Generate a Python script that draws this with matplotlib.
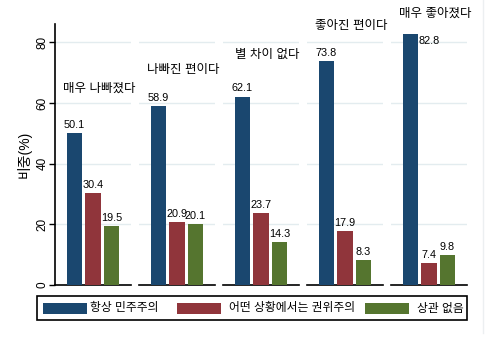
import matplotlib
matplotlib.use('Agg')
import matplotlib.pyplot as plt
from matplotlib.lines import Line2D
from matplotlib.patches import Rectangle

plt.rcParams['font.family'] = ['Liberation Sans', 'Noto Sans CJK KR', 'DejaVu Sans']

panels = ['매우 나빠졌다', '나빠진 편이다', '별 차이 없다', '좋아진 편이다', '매우 좋아졌다']
series = ['항상 민주주의', '어떤 상황에서는 권위주의', '상관 없음']
democracy = [50.1, 58.9, 62.1, 73.8, 82.8]
authoritarian = [30.4, 20.9, 23.7, 17.9, 7.4]
indifferent = [19.5, 20.1, 14.3, 8.3, 9.8]
title_y = [64.8, 70.7, 75.7, 85.5, 89.5]
yticks = [0, 20, 40, 60, 80]

colors = ['#1a476f', '#90353b', '#55752f']
grid_color = '#e3ecef'

W, H = 488, 341
fig = plt.figure(figsize=(W / 100, H / 100), dpi=100)

left0, step, pw = 55, 84, 76
top, bottom = 24, 285

for i, name in enumerate(panels):
    ax = fig.add_axes([(left0 + i * step) / W, 1 - bottom / H, pw / W, (bottom - top) / H])
    vals = [democracy[i], authoritarian[i], indifferent[i]]
    ax.bar(range(3), vals, width=0.81, color=colors, zorder=3)
    ax.set_xlim(-1.05, 3.05)
    ax.set_ylim(0, 86)
    ax.set_yticks(yticks)
    ax.grid(axis='y', color=grid_color, linewidth=1, zorder=0)
    ax.set_xticks([])
    for s in ['top', 'right']:
        ax.spines[s].set_visible(False)
    ax.spines['bottom'].set_linewidth(1.2)
    if i == 0:
        ax.spines['left'].set_linewidth(1.2)
        ax.tick_params(axis='y', length=4, width=1, labelsize=8.5, pad=0.5)
        for lab in ax.get_yticklabels():
            lab.set_rotation(90)
            lab.set_va('center')
        ax.set_ylabel('비중(%)', fontsize=10)
        ax.yaxis.set_label_coords(-0.31, 0.5)
    else:
        ax.spines['left'].set_visible(False)
        ax.tick_params(axis='y', length=0, labelleft=False)
    for j, v in enumerate(vals):
        if v > 80:
            ax.text(j + 0.45, v - 0.8, f'{v:.1f}', ha='left', va='top', fontsize=7.8, zorder=4)
        else:
            ax.text(j, v + 1.0, f'{v:.1f}', ha='center', va='bottom', fontsize=7.8, zorder=4)
    ax.text(1.35, title_y[i], name, ha='center', va='center', fontsize=9, clip_on=False)

# legend box drawn by hand to match the spread-out layout
fig.add_artist(Rectangle((37 / W, 1 - 320 / H), 430 / W, 24 / H, transform=fig.transFigure,
                         facecolor='white', edgecolor='black', linewidth=1.2))
patch_x = [43, 177, 365]
text_x = [90, 229, 417]
for c, label, px, tx in zip(colors, series, patch_x, text_x):
    fig.add_artist(Rectangle((px / W, 1 - 314 / H), 44 / W, 11 / H, transform=fig.transFigure,
                             facecolor=c, edgecolor='none'))
    fig.text(tx / W, 1 - 308.5 / H, label, ha='left', va='center', fontsize=8.5)

fig.add_artist(Line2D([483 / W, 483 / W], [1 - 333 / H, 1], color='#eceff1', linewidth=1))

fig.savefig('out.png', dpi=100)
